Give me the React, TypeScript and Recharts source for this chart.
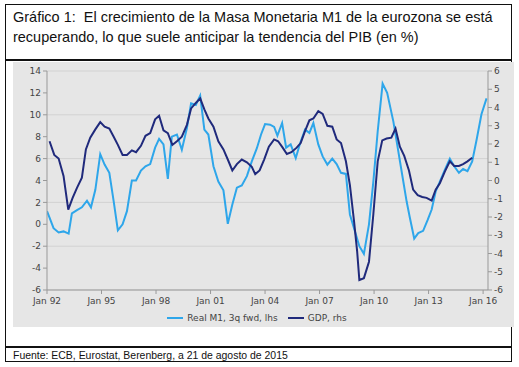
import { LineChart, Line, XAxis, YAxis, CartesianGrid, Legend } from "recharts"

// Real M1 growth, 3 quarters forward (lhs, %)
const m1Years = [
  1992.0, 1992.14, 1992.36, 1992.64, 1992.91, 1993.19, 1993.37, 1993.65, 1993.92, 1994.2,
  1994.42, 1994.66, 1994.93, 1995.17, 1995.43, 1995.67, 1995.9, 1996.16, 1996.4, 1996.67,
  1996.9, 1997.17, 1997.42, 1997.68, 1997.95, 1998.17, 1998.41, 1998.65, 1998.87, 1999.15,
  1999.42, 1999.7, 1999.93, 2000.19, 2000.43, 2000.66, 2000.88, 2001.16, 2001.43, 2001.71,
  2001.95, 2002.2, 2002.45, 2002.72, 2003.0, 2003.27, 2003.55, 2003.78, 2004.0, 2004.28,
  2004.5, 2004.68, 2004.94, 2005.16, 2005.41, 2005.69, 2005.93, 2006.2, 2006.44, 2006.66,
  2006.93, 2007.17, 2007.43, 2007.7, 2007.94, 2008.18, 2008.45, 2008.67, 2008.95, 2009.19,
  2009.44, 2009.72, 2009.96, 2010.2, 2010.47, 2010.72, 2011.06, 2011.3, 2011.52, 2011.79,
  2011.97, 2012.21, 2012.43, 2012.7, 2012.95, 2013.17, 2013.39, 2013.62, 2013.9, 2014.17,
  2014.41, 2014.67, 2014.9, 2015.14, 2015.4, 2015.64, 2015.91, 2016.19,
]
const m1Values = [
  1.2, 0.6, -0.35, -0.75, -0.65, -0.85, 1.0, 1.3, 1.55, 2.15,
  1.55, 3.15, 6.4, 5.45, 4.7, 2.1, -0.55, 0.0, 1.2, 4.0,
  4.0, 4.9, 5.3, 5.5, 7.0, 7.8, 7.3, 4.15, 8.0, 8.2,
  6.8, 8.8, 11.05, 10.9, 11.75, 8.65, 8.2, 5.3, 3.9, 3.1,
  0.05, 1.8, 3.35, 3.55, 4.4, 5.75, 6.95, 8.2, 9.15, 9.1,
  8.9, 8.1, 9.25, 7.0, 7.3, 6.05, 7.4, 8.65, 8.35, 9.25,
  7.3, 6.2, 5.45, 6.0, 5.5, 4.7, 4.6, 0.9, -0.65, -2.0,
  -2.7, 0.0, 3.9, 8.5, 12.85, 12.0, 9.4, 7.0, 4.8, 2.1,
  0.6, -1.3, -0.8, -0.6, 0.4, 1.35, 3.0, 3.9, 5.0, 6.0,
  5.3, 4.7, 5.05, 4.85, 5.75, 7.7, 10.05, 11.5,
]

// GDP growth (rhs, %)
const gdpYears = [
  1992.14, 1992.4, 1992.64, 1992.91, 1993.17, 1993.41, 1993.65, 1993.92, 1994.14, 1994.38,
  1994.66, 1994.93, 1995.17, 1995.43, 1995.67, 1995.9, 1996.16, 1996.4, 1996.67, 1996.9,
  1997.17, 1997.42, 1997.68, 1997.95, 1998.17, 1998.41, 1998.65, 1998.9, 1999.15, 1999.42,
  1999.7, 1999.93, 2000.19, 2000.43, 2000.66, 2000.88, 2001.16, 2001.43, 2001.71, 2001.95,
  2002.2, 2002.45, 2002.72, 2003.0, 2003.27, 2003.46, 2003.7, 2003.95, 2004.21, 2004.5,
  2004.72, 2004.97, 2005.2, 2005.45, 2005.74, 2005.96, 2006.2, 2006.44, 2006.66, 2006.93,
  2007.17, 2007.43, 2007.7, 2007.94, 2008.18, 2008.45, 2008.67, 2008.9, 2009.07, 2009.19,
  2009.44, 2009.72, 2009.96, 2010.2, 2010.45, 2010.69, 2010.95, 2011.18, 2011.42, 2011.66,
  2011.92, 2012.15, 2012.4, 2012.65, 2012.89, 2013.17, 2013.39, 2013.62, 2013.9, 2014.17,
  2014.41, 2014.67, 2014.9, 2015.14, 2015.4,
]
const gdpValues = [
  2.15, 1.4, 1.2, 0.25, -1.6, -0.95, -0.4, 0.15, 1.7, 2.35,
  2.8, 3.2, 2.95, 2.85, 2.4, 1.95, 1.4, 1.4, 1.65, 1.55,
  1.9, 2.45, 2.6, 3.35, 3.55, 2.75, 2.6, 1.95, 2.15, 2.4,
  3.05, 3.95, 4.25, 4.5, 3.9, 3.4, 2.95, 2.15, 1.7, 1.15,
  0.55, 0.9, 1.15, 1.0, 0.75, 0.35, 0.55, 1.15, 1.85, 2.25,
  2.15, 1.8, 1.45, 1.55, 1.8, 2.05, 2.7, 3.3, 3.4, 3.8,
  3.65, 3.0, 2.95, 2.25, 2.05, 1.05, -0.25, -2.25, -3.9, -5.45,
  -5.35, -4.45, -1.85, 1.05, 2.2, 2.3, 2.35, 2.85, 1.85, 1.35,
  0.55, -0.5, -0.8, -0.9, -0.95, -1.1, -0.5, -0.15, 0.5, 1.05,
  0.8, 0.8, 0.9, 1.05, 1.25,
]

const xTicks = [1992, 1995, 1998, 2001, 2004, 2007, 2010, 2013, 2016]
const leftTicks = [-6, -4, -2, 0, 2, 4, 6, 8, 10, 12, 14]
const rightTicks = [-6, -5, -4, -3, -2, -1, 0, 1, 2, 3, 4, 5, 6]
const seriesOrder = ["Real M1, 3q fwd, lhs", "GDP, rhs"]

const m1Data = m1Years.map((t, i) => ({ t, value: m1Values[i] }))
const gdpData = gdpYears.map((t, i) => ({ t, value: gdpValues[i] }))

const TICK_FONT = { fontFamily: "'DejaVu Sans', Verdana, sans-serif", fontSize: 9, fill: "#444" }
const TEXT_FONT = "'Liberation Sans', Arial, sans-serif"

export default function App() {
  return (
    <div style={{ position: "absolute", left: 0, top: 0, width: 519, height: 367, background: "#fff" }}>
      {/* outer frame */}
      <div style={{ position: "absolute", left: 5, top: 4, width: 505, height: 356, border: "1.5px solid #111" }} />
      <div style={{ position: "absolute", left: 5, top: 59, width: 507, height: 1.5, background: "#111" }} />
      <div style={{ position: "absolute", left: 5, top: 346, width: 507, height: 1.5, background: "#111" }} />

      {/* title */}
      <div
        style={{
          position: "absolute", left: 13, top: 7, whiteSpace: "nowrap",
          fontFamily: TEXT_FONT, fontSize: 15, lineHeight: "20px", color: "#111",
          transform: "scaleX(0.965)", transformOrigin: "left top",
        }}
      >
        Gráfico 1:&nbsp; El crecimiento de la Masa Monetaria M1 de la eurozona se está
        <br />
        recuperando, lo que suele anticipar la tendencia del PIB (en %)
      </div>

      {/* chart panel */}
      <div style={{ position: "absolute", left: 13, top: 62, width: 501, height: 265, background: "#e6e6e6" }}>
        <LineChart width={498} height={265} margin={{ top: 9, right: 0, bottom: 0, left: 0 }}>
          <CartesianGrid yAxisId="left" vertical={false} stroke="#d2d2d2" strokeWidth={1} />
          <XAxis
            dataKey="t"
            type="number"
            domain={[1992, 2016.27]}
            ticks={xTicks}
            allowDataOverflow
            tickFormatter={(v: number) => `Jan ${String(v).slice(2)}`}
            tick={TICK_FONT}
            stroke="#999"
            tickSize={4}
            tickMargin={4}
            height={20}
          />
          <YAxis
            yAxisId="left"
            domain={[-6, 14]}
            ticks={leftTicks}
            tick={TICK_FONT}
            stroke="#999"
            tickSize={4}
            width={34}
          />
          <YAxis
            yAxisId="right"
            orientation="right"
            domain={[-6, 6]}
            ticks={rightTicks}
            tick={TICK_FONT}
            stroke="#999"
            tickSize={4}
            width={23}
          />
          <Legend
            verticalAlign="bottom"
            height={17}
            iconSize={16}
            itemSorter={(item: any) => seriesOrder.indexOf(item.value)}
            wrapperStyle={{ fontFamily: "'DejaVu Sans', Verdana, sans-serif", fontSize: 9, color: "#444", paddingLeft: 0 }}
            formatter={(value: string) => <span style={{ color: "#444" }}>{value}</span>}
          />
          <Line
            data={m1Data}
            yAxisId="left"
            dataKey="value"
            name="Real M1, 3q fwd, lhs"
            stroke="#2ea6ea"
            strokeWidth={2}
            dot={false}
            legendType="plainline"
            isAnimationActive={false}
          />
          <Line
            data={gdpData}
            yAxisId="right"
            dataKey="value"
            name="GDP, rhs"
            stroke="#202a7c"
            strokeWidth={2}
            dot={false}
            legendType="plainline"
            isAnimationActive={false}
          />
        </LineChart>
      </div>

      {/* source */}
      <div
        style={{
          position: "absolute", left: 13, top: 348, whiteSpace: "nowrap",
          fontFamily: TEXT_FONT, fontSize: 11, lineHeight: "14px", color: "#111",
          transform: "scaleX(0.95)", transformOrigin: "left top",
        }}
      >
        Fuente: ECB, Eurostat, Berenberg, a 21 de agosto de 2015
      </div>
    </div>
  )
}
